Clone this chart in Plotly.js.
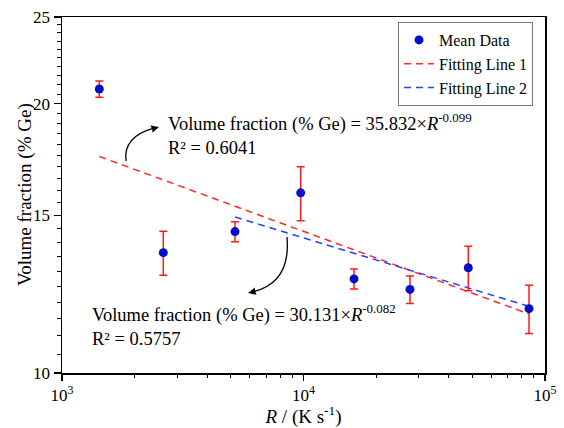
<!DOCTYPE html>
<html>
<head>
<meta charset="utf-8">
<script src="https://cdn.plot.ly/plotly-3.0.1.min.js"></script>
<style>html,body{margin:0;padding:0;background:#fff;}#chart{width:564px;height:428px;}</style>
</head>
<body>
<div id="chart"></div>
<script>
// Mean data (cooling rate R in K/s, volume fraction % Ge)
const rateR = [1427, 2627, 5204, 9736, 16190, 27600, 48130, 85860];
const volFrac = [20.77, 13.63, 14.39, 15.90, 12.74, 12.40, 13.11, 11.80];
const volErr = [0.43, 0.77, 0.37, 1.10, 0.33, 0.44, 0.75, 0.73];

// Fitting lines (end points)
const fit1X = [1427, 85860];
const fit1Y = [17.46, 11.64];
const fit2X = [5204, 85860];
const fit2Y = [14.94, 11.87];

const yTickVals = [10, 15, 20, 25];
const yTickText = ['10', '15', '20', '25'];
const xMinor = [2000,3000,4000,5000,6000,7000,8000,9000,20000,30000,40000,50000,60000,70000,80000,90000];
const yMinor = [];
for (let v = 10.5; v < 25; v += 0.5) { if (v !== 15 && v !== 20) yMinor.push(v); }

const FONT = 'Liberation Serif, Times New Roman, serif';

// plot area geometry (px) for decorative arrows
const L = 62, R = 545, T = 17, B = 373;
const W = 564, H = 428;
function px(x) { return (x - L) / (R - L); }
function py(y) { return (B - y) / (B - T); }
function pathOf(pts) {
  return pts.map(p => (px(p[0]).toFixed(4) + ',' + py(p[1]).toFixed(4))).join(' ');
}

const traces = [
  {
    x: fit1X, y: fit1Y, mode: 'lines', name: 'Fitting Line 1', legendrank: 2,
    line: {color: '#ff2a2a', width: 1.5, dash: '7px,5px'}
  },
  {
    x: fit2X, y: fit2Y, mode: 'lines', name: 'Fitting Line 2', legendrank: 3,
    line: {color: '#2244ff', width: 1.5, dash: '7px,5px'}
  },
  {
    x: rateR, y: volFrac, mode: 'markers', name: 'Mean Data', legendrank: 1,
    marker: {color: '#0010c8', size: 9},
    error_y: {type: 'data', array: volErr, visible: true, color: '#ff1a1a', thickness: 1.5, width: 4}
  }
];

const layout = {
  width: W, height: H,
  margin: {l: L, r: W - R, t: T, b: H - B},
  paper_bgcolor: '#fff', plot_bgcolor: '#fff',
  font: {family: FONT, size: 16, color: '#000'},
  showlegend: true,
  legend: {
    x: px(398), y: py(22), xanchor: 'left', yanchor: 'top',
    bordercolor: '#777', borderwidth: 1, bgcolor: '#fff',
    font: {family: FONT, size: 16, color: '#000'},
    traceorder: 'normal', tracegroupgap: 0
  },
  xaxis: {
    type: 'log', range: [3, 5],
    tickvals: [1000, 10000, 100000], ticktext: ['10<sup>3</sup>', '10<sup>4</sup>', '10<sup>5</sup>'],
    ticks: 'outside', ticklen: 6, tickwidth: 1.2, tickcolor: '#000',
    minor: {tickvals: xMinor, ticks: 'outside', ticklen: 3, tickwidth: 1, tickcolor: '#000'},
    showline: true, linecolor: '#000', linewidth: 1.5, mirror: true,
    showgrid: false, zeroline: false,
    tickfont: {family: FONT, size: 17},
    title: {text: '<i>R</i> / (K s<sup>-1</sup>)', font: {family: FONT, size: 19}, standoff: 6}
  },
  yaxis: {
    type: 'log', range: [1, Math.log10(25)],
    tickvals: yTickVals, ticktext: yTickText,
    ticks: 'outside', ticklen: 7, tickwidth: 1.2, tickcolor: '#000',
    minor: {tickvals: yMinor, ticks: 'outside', ticklen: 4, tickwidth: 1, tickcolor: '#000'},
    showline: true, linecolor: '#000', linewidth: 1.5, mirror: true,
    showgrid: false, zeroline: false,
    tickfont: {family: FONT, size: 17},
    title: {text: ''}
  },
  annotations: [
    {
      xref: 'paper', yref: 'paper', x: px(25), y: py(195), xanchor: 'center', yanchor: 'middle',
      textangle: -90, showarrow: false, font: {family: FONT, size: 19, color: '#000'},
      text: 'Volume fraction (% Ge)'
    },
    {
      xref: 'paper', yref: 'paper', x: px(166), y: py(134), xanchor: 'left', yanchor: 'middle', align: 'left',
      showarrow: false, font: {family: FONT, size: 18.5, color: '#000'},
      text: 'Volume fraction (% Ge) = 35.832×<i>R</i><sup>-0.099</sup><br>R² = 0.6041'
    },
    {
      xref: 'paper', yref: 'paper', x: px(90), y: py(325), xanchor: 'left', yanchor: 'middle', align: 'left',
      showarrow: false, font: {family: FONT, size: 18.5, color: '#000'},
      text: 'Volume fraction (% Ge) = 30.131×<i>R</i><sup>-0.082</sup><br>R² = 0.5757'
    }
  ],
  shapes: [
    {type: 'path', xref: 'paper', yref: 'paper', line: {color: '#000', width: 1.3},
     path: 'M' + pathOf([[126, 161]]) + ' Q' + pathOf([[123, 137], [153, 128.5]])},
    {type: 'path', xref: 'paper', yref: 'paper', line: {color: '#000', width: 0}, fillcolor: '#000',
     path: 'M' + pathOf([[159, 127]]) + ' L' + pathOf([[150.4, 125.6]]) + ' L' + pathOf([[152.4, 129.6]]) + ' L' + pathOf([[152.4, 132.8]]) + ' Z'},
    {type: 'path', xref: 'paper', yref: 'paper', line: {color: '#000', width: 1.3},
     path: 'M' + pathOf([[287, 237]]) + ' Q' + pathOf([[291, 282], [254, 291.5]])},
    {type: 'path', xref: 'paper', yref: 'paper', line: {color: '#000', width: 0}, fillcolor: '#000',
     path: 'M' + pathOf([[248, 293]]) + ' L' + pathOf([[256.6, 294.8]]) + ' L' + pathOf([[255, 291]]) + ' L' + pathOf([[254.8, 287.6]]) + ' Z'}
  ]
};

Plotly.newPlot('chart', traces, layout, {displayModeBar: false, staticPlot: true});
</script>
</body>
</html>
